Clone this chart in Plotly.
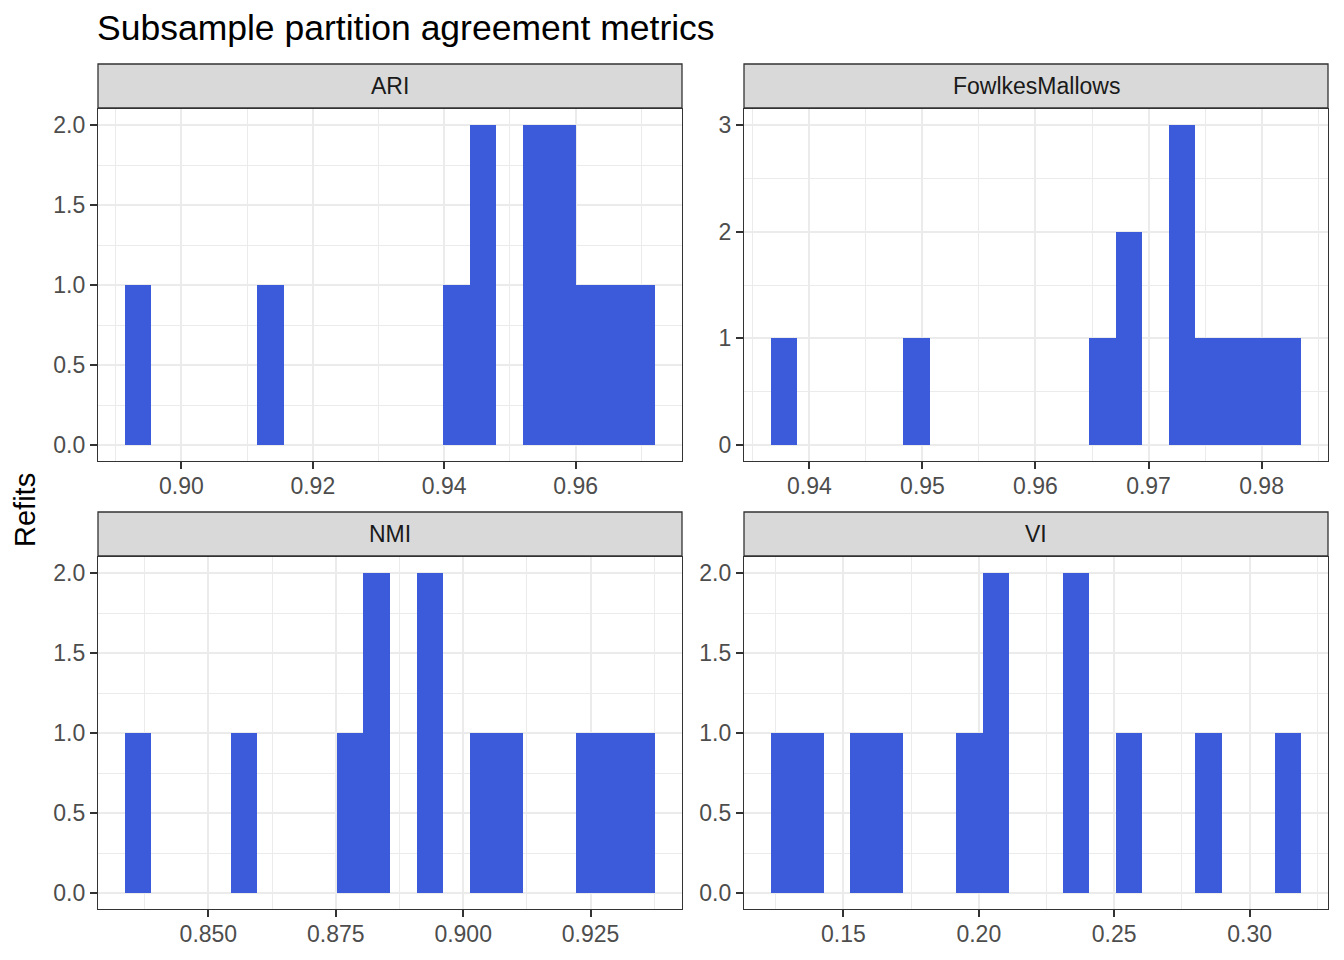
import plotly.graph_objects as go

# facet order and bin layout (20 bins per panel)
metrics = ["ARI", "FowlkesMallows", "NMI", "VI"]

bin_start = {"ARI": 0.89134, "FowlkesMallows": 0.93656, "NMI": 0.83355, "VI": 0.12310}
bin_width = {"ARI": 0.004041, "FowlkesMallows": 0.0023485, "NMI": 0.005209, "VI": 0.009803}

ari_counts = [1, 0, 0, 0, 0, 1, 0, 0, 0, 0, 0, 0, 1, 2, 0, 2, 2, 1, 1, 1]
fm_counts = [1, 0, 0, 0, 0, 1, 0, 0, 0, 0, 0, 0, 1, 2, 0, 3, 1, 1, 1, 1]
nmi_counts = [1, 0, 0, 0, 1, 0, 0, 0, 1, 2, 0, 2, 0, 1, 1, 0, 0, 1, 1, 1]
vi_counts = [1, 1, 0, 1, 1, 0, 0, 1, 2, 0, 0, 2, 0, 1, 0, 0, 1, 0, 0, 1]
counts = {"ARI": ari_counts, "FowlkesMallows": fm_counts, "NMI": nmi_counts, "VI": vi_counts}

# axis ticks per panel
x_dtick = {"ARI": 0.02, "FowlkesMallows": 0.01, "NMI": 0.025, "VI": 0.05}
x_fmt = {"ARI": ".2f", "FowlkesMallows": ".2f", "NMI": ".3f", "VI": ".2f"}
y_dtick = {"ARI": 0.5, "FowlkesMallows": 1, "NMI": 0.5, "VI": 0.5}
y_fmt = {"ARI": ".1f", "FowlkesMallows": "d", "NMI": ".1f", "VI": ".1f"}

BAR = "#3C5BDB"
GRID = "#EBEBEB"
DARK = "#333333"
FONT = "Liberation Sans"

# the page puts the figure 8px in from the top-left corner
OFF = 8
W, H = 1344 - OFF, 960 - OFF
ML, MR, MT, MB = 98 - OFF, 16, 64 - OFF, 51
PW, PH = W - ML - MR, H - MT - MB


def px_x(a, b):
    return [(a - OFF - ML) / PW, (b - OFF - ML) / PW]


def px_y(top, bot):
    return [(H - MB - (bot - OFF)) / PH, (H - MB - (top - OFF)) / PH]


# panel pixel boxes on the page: (left, right, strip top, strip bottom, plot top, plot bottom)
boxes = {
    "ARI": (98, 682, 64, 108, 109, 461),
    "FowlkesMallows": (744, 1328, 64, 108, 109, 461),
    "NMI": (98, 682, 512, 556, 557, 909),
    "VI": (744, 1328, 512, 556, 557, 909),
}

fig = go.Figure()
shapes = []
annotations = []

for i, m in enumerate(metrics):
    n = i + 1
    x0, w = bin_start[m], bin_width[m]
    c = counts[m]
    centers = [x0 + (k + 0.5) * w for k in range(len(c))]
    fig.add_trace(go.Bar(
        x=centers, y=c, width=w,
        marker=dict(color=BAR, line=dict(width=0)),
        xaxis=f"x{n}", yaxis=f"y{n}", showlegend=False,
    ))

    left, right, st, sb, pt, pb = boxes[m]
    x_lo = x0 - w
    x_hi = x0 + (len(c) + 1) * w
    ymax = max(c)
    dx, dy = x_dtick[m], y_dtick[m]

    xa = dict(
        domain=px_x(left, right), anchor=f"y{n}",
        range=[x_lo, x_hi], tick0=0, dtick=dx, tickformat=x_fmt[m],
        showgrid=True, gridcolor=GRID, gridwidth=2.4,
        minor=dict(tick0=dx / 2, dtick=dx, showgrid=True, gridcolor=GRID, gridwidth=1.2, ticks=""),
        ticks="outside", ticklen=7, tickwidth=2, tickcolor=DARK,
        tickfont=dict(family=FONT, size=23, color="#4D4D4D"),
        ticklabelstandoff=-3,
        showline=True, mirror=True, linecolor=DARK, linewidth=1.3,
        zeroline=False, fixedrange=True,
    )
    ya = dict(
        domain=px_y(pt, pb), anchor=f"x{n}",
        range=[-0.05 * ymax, 1.05 * ymax], tick0=0, dtick=dy, tickformat=y_fmt[m],
        showgrid=True, gridcolor=GRID, gridwidth=2.4,
        minor=dict(tick0=dy / 2, dtick=dy, showgrid=True, gridcolor=GRID, gridwidth=1.2, ticks=""),
        ticks="outside", ticklen=7, tickwidth=2, tickcolor=DARK,
        tickfont=dict(family=FONT, size=23, color="#4D4D4D"),
        showline=True, mirror=True, linecolor=DARK, linewidth=1.3,
        zeroline=False, fixedrange=True,
    )
    fig.layout[f"xaxis{n}" if n > 1 else "xaxis"] = xa
    fig.layout[f"yaxis{n}" if n > 1 else "yaxis"] = ya

    # strip header
    sx = px_x(left, right)
    sy = px_y(st, sb)
    shapes.append(dict(
        type="rect", xref="paper", yref="paper",
        x0=sx[0], x1=sx[1], y0=sy[0], y1=sy[1],
        fillcolor="#D9D9D9", line=dict(color=DARK, width=1.3), layer="above",
    ))
    annotations.append(dict(
        text=m, xref="paper", yref="paper",
        x=(sx[0] + sx[1]) / 2, y=(sy[0] + sy[1]) / 2,
        xanchor="center", yanchor="middle", showarrow=False,
        font=dict(family=FONT, size=23, color="#1A1A1A"),
    ))

annotations.append(dict(
    text="Refits", xref="paper", yref="paper",
    x=(25 - OFF - ML) / PW, y=(H - MB - (510 - OFF)) / PH,
    xanchor="center", yanchor="middle", textangle=-90, showarrow=False,
    font=dict(family=FONT, size=29, color="black"),
))

# plot title
annotations.append(dict(
    text="Subsample partition agreement metrics", xref="paper", yref="paper",
    x=(95 - OFF - ML) / PW, y=(H - MB - (28 - OFF)) / PH,
    xanchor="left", yanchor="middle", showarrow=False,
    font=dict(family=FONT, size=35.5, color="black"),
))

fig.update_layout(
    width=W, height=H,
    margin=dict(l=ML, r=MR, t=MT, b=MB),
    paper_bgcolor="white", plot_bgcolor="white",
    bargap=0,
    shapes=shapes,
    annotations=annotations,
)

fig.write_html("out.html")
